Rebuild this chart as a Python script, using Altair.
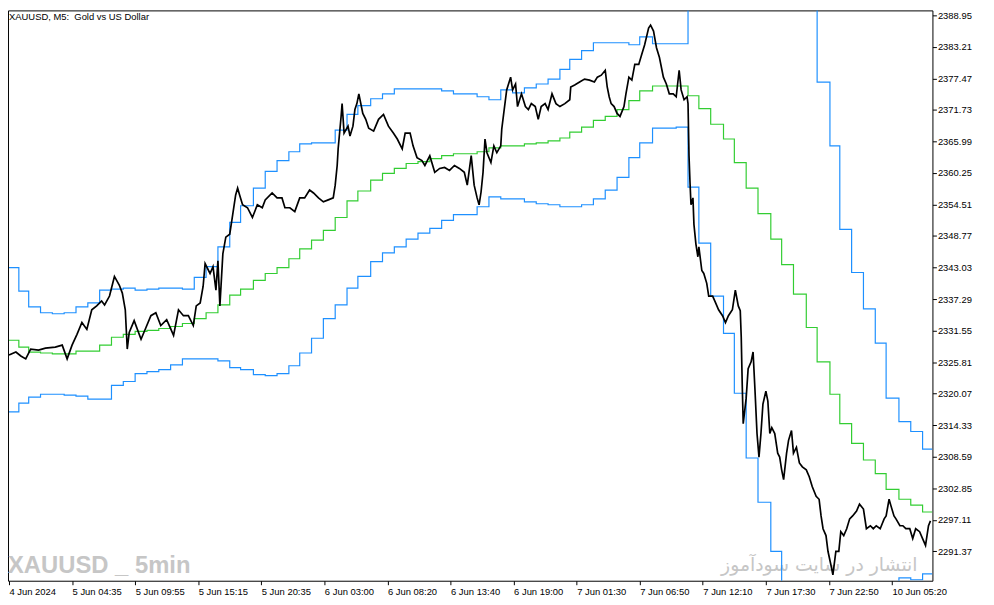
import json
import altair as alt
import pandas as pd

# ---------------- data ----------------
# price (bar index, close)
price_idx = [
    0, 7, 12, 17, 22, 30, 37, 47, 54, 59,
    64, 69, 74, 79, 84, 89, 94, 97, 102, 107,
    112, 115, 118, 120, 122, 127, 134, 139, 144, 149,
    154, 160, 167, 172, 177, 182, 187, 190, 194, 197,
    199, 204, 207, 210, 212, 214, 217, 220, 224, 227,
    230, 232, 234, 237, 242, 247, 252, 257, 260, 267,
    272, 277, 280, 285, 290, 295, 300, 305, 309, 314,
    319, 324, 329, 331, 333, 334, 337, 338, 340, 344,
    346, 349, 351, 353, 355, 359, 362, 365, 370, 375,
    380, 385, 390, 394, 399, 402, 407, 410, 414, 419,
    422, 427, 432, 437, 442, 447, 452, 457, 462, 465,
    469, 472, 475, 477, 479, 481, 483, 485, 489, 492,
    495, 499, 500, 502, 505, 509, 511, 514, 516, 520,
    524, 527, 530, 534, 537, 540, 544, 547, 551, 555,
    559, 564, 569, 570, 574, 579, 584, 589, 594, 597,
    601, 605, 607, 609, 611, 614, 617, 620, 624, 626,
    629, 632, 635, 639, 642, 645, 649, 651, 654, 657,
    660, 664, 667, 670, 674, 677, 680, 682, 685, 688,
    689, 690, 691, 692, 694, 695, 697, 699, 700, 703,
    705, 708, 710, 714, 717, 720, 724, 727, 730, 734,
    737, 740, 742, 743, 744, 745, 748, 750, 753, 755,
    757, 759, 761, 763, 765, 768, 770, 772, 774, 777,
    780, 782, 784, 786, 789, 791, 794, 796, 799, 802,
    805, 809, 812, 815, 819, 822, 824, 826, 829, 831,
    834, 836, 839, 842, 844, 847, 850, 853, 856, 860,
    863, 867, 870, 874, 877, 880, 884, 888, 890, 893,
    895, 898, 900, 904, 907, 910, 914, 917, 920, 924,
    927, 930, 933, 935,
]
price_val = [
    2327.12, 2327.65, 2326.94, 2326.40, 2328.19, 2328.01, 2328.37, 2328.55, 2328.91, 2326.40,
    2328.91, 2330.87, 2333.02, 2331.77, 2335.34, 2336.05, 2336.95, 2336.23, 2337.84, 2341.41,
    2339.81, 2338.38, 2335.34, 2328.19, 2331.23, 2333.37, 2329.98, 2332.12, 2334.27, 2334.80,
    2332.48, 2333.55, 2330.69, 2335.34, 2334.27, 2334.27, 2332.48, 2336.05, 2336.59, 2339.63,
    2343.74, 2341.95, 2343.20, 2338.91, 2344.27, 2336.05, 2345.52, 2348.56, 2349.10, 2352.67,
    2356.25, 2357.50, 2356.25, 2354.46, 2353.92, 2352.14, 2354.46, 2353.92, 2355.35, 2356.60,
    2355.71, 2355.71, 2353.92, 2353.92, 2353.21, 2355.71, 2355.71, 2357.14, 2356.60, 2355.71,
    2355.00, 2355.35, 2355.71, 2358.03, 2361.61, 2364.65, 2370.54, 2372.87, 2367.51, 2368.76,
    2366.97, 2368.76, 2371.79, 2372.87, 2374.65, 2371.08, 2370.01, 2368.40, 2367.86, 2370.01,
    2370.90, 2368.76, 2367.51, 2366.43, 2364.65, 2367.51, 2367.51, 2365.18, 2363.04, 2362.50,
    2361.61, 2363.39, 2360.36, 2361.07, 2361.25, 2360.71, 2361.61, 2361.07, 2360.36, 2358.03,
    2363.39, 2358.03, 2355.71, 2354.46, 2356.78, 2360.36, 2366.43, 2363.93, 2362.14, 2365.18,
    2363.93, 2365.18, 2368.22, 2371.08, 2375.37, 2377.69, 2375.37, 2376.44, 2372.33, 2374.65,
    2372.33, 2371.79, 2372.87, 2372.33, 2370.01, 2372.33, 2372.87, 2371.79, 2374.65, 2372.87,
    2372.33, 2372.87, 2373.58, 2375.90, 2376.26, 2376.80, 2377.33, 2377.15, 2376.80, 2377.69,
    2378.05, 2378.94, 2375.90, 2374.12, 2372.87, 2372.33, 2371.08, 2370.54, 2372.33, 2374.65,
    2377.69, 2377.15, 2380.01, 2380.01, 2381.80, 2383.59, 2386.63, 2387.16, 2386.09, 2383.05,
    2381.26, 2377.69, 2376.44, 2374.65, 2374.65, 2374.12, 2378.94, 2375.37, 2373.58, 2374.12,
    2372.87, 2363.39, 2358.57, 2354.46, 2355.71, 2350.89, 2347.31, 2344.99, 2346.78, 2342.49,
    2341.95, 2340.16, 2337.84, 2337.84, 2336.59, 2335.34, 2334.27, 2333.02, 2334.27, 2335.34,
    2338.91, 2336.05, 2335.16, 2330.34, 2321.76, 2314.61, 2319.26, 2324.62, 2325.87, 2327.65,
    2320.51, 2312.82, 2308.53, 2312.82, 2318.18, 2320.51, 2318.72, 2312.82, 2313.89, 2312.82,
    2309.25, 2308.53, 2306.21, 2304.42, 2309.25, 2311.57, 2313.36, 2309.25, 2310.32, 2307.46,
    2306.75, 2306.21, 2304.96, 2303.17, 2301.39, 2300.85, 2297.81, 2295.49, 2294.24, 2291.38,
    2288.88, 2287.09, 2291.38, 2291.38, 2294.95, 2294.24, 2295.49, 2297.28, 2297.81, 2298.71,
    2299.96, 2299.06, 2295.49, 2296.03, 2295.49, 2296.03, 2295.49, 2297.28, 2297.81, 2300.85,
    2299.60, 2297.81, 2297.28, 2296.03, 2296.03, 2295.49, 2295.49, 2293.70, 2295.49, 2294.95,
    2293.70, 2292.45, 2296.03, 2296.92,
]

# step bands: bar index where each hourly step starts (last entry = right end)
band_idx = [
    0, 10, 20, 32, 44, 56, 68, 80, 92, 104,
    116, 128, 140, 152, 164, 176, 188, 200, 212, 224,
    235, 248, 260, 272, 284, 295, 307, 319, 331, 343,
    354, 367, 379, 391, 403, 415, 427, 439, 451, 463,
    475, 487, 499, 511, 523, 535, 547, 559, 569, 581,
    593, 605, 617, 629, 640, 653, 665, 677, 689, 700,
    712, 725, 736, 748, 760, 773, 784, 796, 809, 820,
    833, 843, 855, 867, 879, 890, 903, 915, 927, 937,
]
upper_band = [
    2343.02, 2338.73, 2335.88, 2334.80, 2334.62, 2334.80, 2335.88, 2336.59, 2338.91, 2339.09,
    2339.27, 2338.91, 2339.09, 2339.27, 2339.27, 2339.09, 2341.24, 2343.20, 2346.78, 2351.24,
    2354.28, 2357.50, 2360.54, 2362.50, 2364.11, 2365.54, 2365.72, 2365.72, 2368.04, 2370.90,
    2372.51, 2373.76, 2374.65, 2375.55, 2375.55, 2375.55, 2375.55, 2375.19, 2374.65, 2374.65,
    2374.12, 2373.58, 2375.37, 2374.83, 2375.73, 2376.44, 2377.33, 2379.12, 2380.91, 2382.52,
    2383.95, 2383.95, 2383.95, 2383.59, 2385.02, 2383.77, 2383.77, 2383.77, 2390.91, 2396.45,
    2400.39, 2401.82, 2404.14, 2406.64, 2405.39, 2405.03, 2401.10, 2398.24, 2391.99, 2376.80,
    2365.18, 2349.99, 2342.13, 2335.52, 2329.26, 2319.26, 2314.97, 2313.18, 2309.96,
]
middle_band = [
    2329.80, 2328.55, 2327.65, 2327.48, 2327.30, 2327.30, 2327.83, 2327.83, 2328.91, 2330.34,
    2330.87, 2331.41, 2331.59, 2331.94, 2332.30, 2332.84, 2333.73, 2334.80, 2336.23, 2338.02,
    2339.09, 2340.70, 2341.95, 2343.02, 2344.63, 2346.42, 2348.03, 2349.81, 2352.14, 2355.17,
    2356.96, 2358.93, 2360.18, 2361.07, 2361.97, 2362.32, 2362.86, 2363.39, 2363.75, 2363.75,
    2364.11, 2364.82, 2365.18, 2365.18, 2365.54, 2365.72, 2366.08, 2366.61, 2367.68, 2368.58,
    2369.83, 2370.54, 2371.79, 2373.40, 2375.19, 2376.08, 2376.08, 2376.08, 2374.30, 2371.97,
    2369.11, 2366.43, 2362.14, 2357.50, 2352.85, 2348.21, 2343.56, 2338.20, 2332.12, 2325.87,
    2319.97, 2314.61, 2311.04, 2308.00, 2305.50, 2302.64, 2300.85, 2299.78, 2298.53,
]
lower_band = [
    2316.75, 2318.36, 2319.43, 2319.97, 2319.97, 2319.79, 2319.61, 2319.08, 2319.08, 2321.58,
    2322.29, 2323.72, 2324.08, 2324.44, 2325.33, 2326.40, 2326.40, 2326.40, 2326.05, 2324.80,
    2324.44, 2323.54, 2323.37, 2323.72, 2325.15, 2327.48, 2330.16, 2333.73, 2336.23, 2339.27,
    2341.41, 2344.10, 2345.70, 2346.78, 2348.21, 2349.28, 2350.17, 2351.60, 2352.67, 2352.67,
    2354.10, 2355.89, 2355.53, 2355.53, 2355.00, 2354.64, 2354.46, 2354.10, 2354.10, 2354.46,
    2355.53, 2357.14, 2359.46, 2363.04, 2365.72, 2368.40, 2368.40, 2368.58, 2357.68, 2347.49,
    2337.84, 2331.05, 2320.15, 2308.36, 2300.31, 2291.38, 2285.66, 2278.16, 2272.26, 2274.94,
    2274.76, 2279.23, 2279.94, 2280.48, 2281.73, 2285.84, 2286.55, 2286.20, 2287.27,
]

x_tick_idx = [0, 64, 128, 192, 256, 320, 384, 448, 512, 576, 640, 704, 768, 832, 896]
x_tick_labels = [
    "4 Jun 2024", "5 Jun 04:35", "5 Jun 09:55", "5 Jun 15:15", "5 Jun 20:35",
    "6 Jun 03:00", "6 Jun 08:20", "6 Jun 13:40", "6 Jun 19:00", "7 Jun 01:30",
    "7 Jun 06:50", "7 Jun 12:10", "7 Jun 17:30", "7 Jun 22:50", "10 Jun 05:20",
]
y_ticks = [
    2291.37, 2297.11, 2302.85, 2308.59, 2314.33, 2320.07, 2325.81, 2331.55, 2337.29,
    2343.03, 2348.77, 2354.51, 2360.25, 2365.99, 2371.73, 2377.47, 2383.21, 2388.95,
]

chart_title = "XAUUSD, M5:\u00a0 Gold vs US Dollar"
watermark_left = "XAUUSD _ 5min"
watermark_right = "انتشار در سایت سودآموز"

# ---------------- tables ----------------
assert len(price_idx) == len(price_val)
price_df = pd.DataFrame({"i": price_idx, "v": price_val})

rows = []
for name, vals in (("upper", upper_band), ("middle", middle_band), ("lower", lower_band)):
    vv = list(vals) + [vals[-1]]
    for i, v in zip(band_idx, vv):
        rows.append({"i": i, "v": v, "band": name})
band_df = pd.DataFrame(rows)

FONT = "Liberation Sans"
xscale = alt.Scale(domain=[-1, 937], nice=False, zero=False)
yscale = alt.Scale(domain=[2286.02, 2389.84], nice=False, zero=False)

label_expr = json.dumps(x_tick_labels) + "[round(datum.value / 64)]"

xaxis = alt.Axis(
    values=x_tick_idx, labelExpr=label_expr, title=None, grid=False, domain=False,
    tickSize=4, tickColor="black", labelAlign="left", labelBaseline="top",
    labelPadding=2, labelFont=FONT, labelFontSize=9.5, labelColor="black",
    labelOverlap=False, labelFlush=False,
)
yaxis = alt.Axis(
    orient="right", values=y_ticks, format=".2f", title=None, grid=False, domain=False,
    tickSize=4, tickColor="black", labelPadding=1, labelFont=FONT, labelFontSize=9.5,
    labelColor="black", labelOverlap=False, labelFlush=False,
)

bands = alt.Chart(band_df).mark_line(interpolate="step-after", strokeWidth=1.2, clip=True).encode(
    x=alt.X("i:Q", scale=xscale, axis=xaxis),
    y=alt.Y("v:Q", scale=yscale, axis=yaxis),
    color=alt.Color(
        "band:N",
        scale=alt.Scale(domain=["upper", "middle", "lower"], range=["#1E90FF", "#32CD32", "#1E90FF"]),
        legend=None,
    ),
)

price = alt.Chart(price_df).mark_line(color="black", strokeWidth=1.7, clip=True).encode(
    x=alt.X("i:Q", scale=xscale, axis=xaxis),
    y=alt.Y("v:Q", scale=yscale, axis=yaxis),
)

title_mark = alt.Chart(pd.DataFrame({"t": [chart_title]})).mark_text(
    align="left", baseline="top", font=FONT, fontSize=9.5, color="black"
).encode(x=alt.value(1), y=alt.value(2), text="t:N")

wm_left = alt.Chart(pd.DataFrame({"t": [watermark_left]})).mark_text(
    align="left", baseline="alphabetic", font=FONT, fontWeight="bold",
    fontSize=24, color="#c6c6c6"
).encode(x=alt.value(0), y=alt.value(567), text="t:N")

wm_right = alt.Chart(pd.DataFrame({"t": [watermark_right]})).mark_text(
    align="right", baseline="alphabetic", font="DejaVu Sans", fontSize=19, color="#c6c6c6"
).encode(x=alt.value(917), y=alt.value(565), text="t:N")

chart = alt.layer(wm_left, wm_right, bands, price, title_mark).properties(
    width=932, height=575,
    autosize=alt.AutoSizeParams(type="none"),
    padding={"left": 0, "top": 0, "right": 54, "bottom": 16},
    background="white",
).configure_view(stroke="black", strokeWidth=1)

chart.save("out.html", embed_options={"renderer": "svg", "actions": False})
